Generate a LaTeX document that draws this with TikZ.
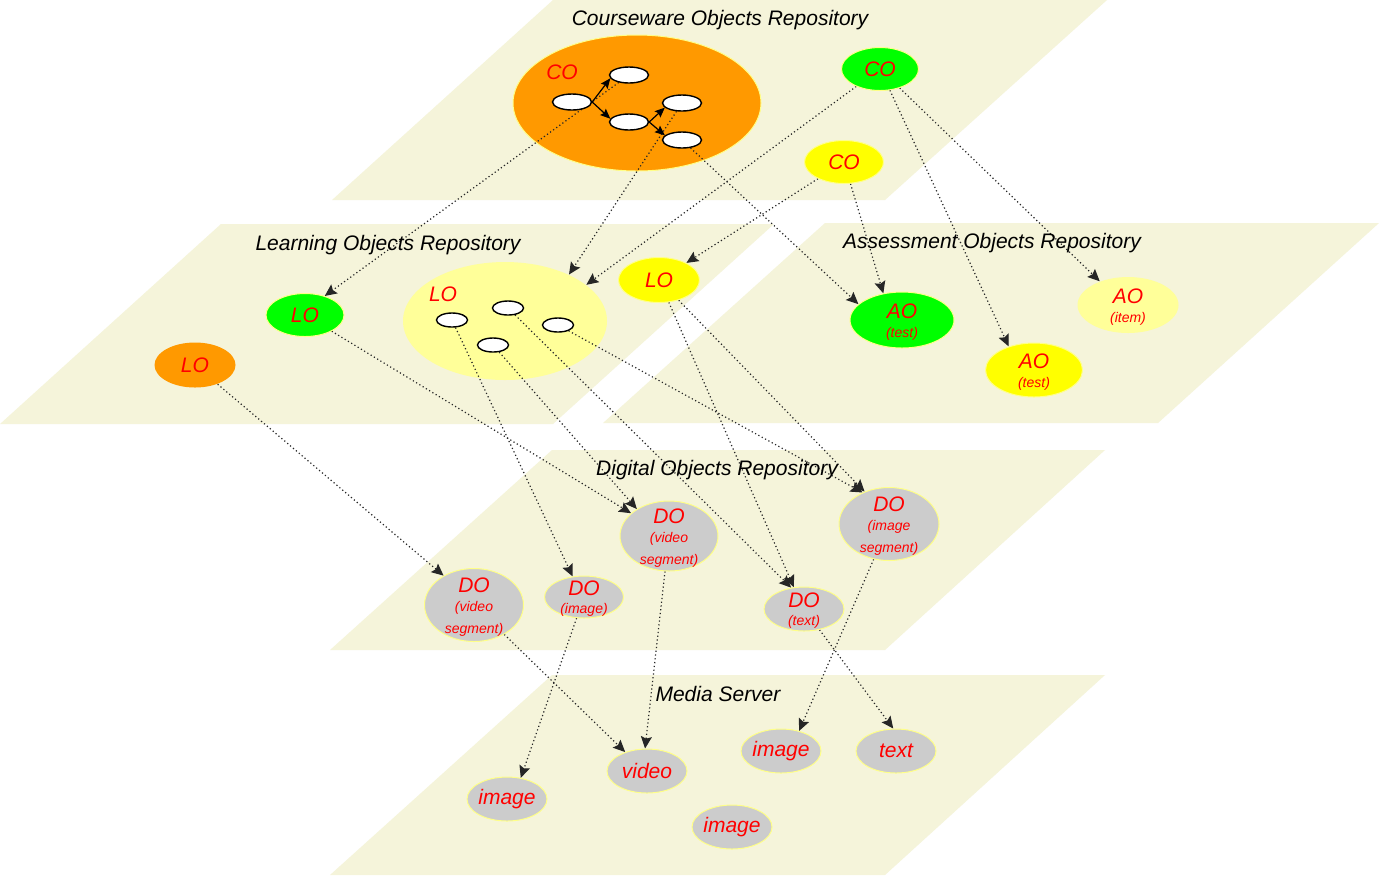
\documentclass[tikz,border=0pt]{standalone}
\usepackage{fontspec}
\setmainfont{Liberation Sans}
\usetikzlibrary{arrows.meta,shapes.geometric}
\definecolor{planeC}{HTML}{F5F4DA}
\definecolor{orangeC}{HTML}{FF9900}
\definecolor{greenC}{HTML}{00FF00}
\definecolor{yellowC}{HTML}{FFFF00}
\definecolor{lightY}{HTML}{FFFF99}
\definecolor{grayC}{HTML}{CCCCCC}
\definecolor{redT}{HTML}{FF0000}
\definecolor{rimY}{HTML}{FFFF88}
\newcommand\bigtxt{\fontsize{10.5}{11}\selectfont\itshape}
\newcommand\smalltxt{\fontsize{7}{8.2}\selectfont\itshape}
\pgfdeclarelayer{bg}
\pgfdeclarelayer{lines}
\pgfsetlayers{bg,lines,main}
\begin{document}
\begin{tikzpicture}[x=0.5pt,y=-0.5pt,
  plane/.style={fill=planeC},
  obj/.style={ellipse, inner sep=0pt, draw=rimY, line width=0.5pt},
  lbl/.style={text=redT, align=center, inner sep=0pt, font=\bigtxt},
  wobj/.style={ellipse, draw=black, fill=white, line width=0.7pt, inner sep=0pt},
  wco/.style={wobj, minimum width=19.5pt, minimum height=8pt},
  wlo/.style={wobj, minimum width=15.5pt, minimum height=7pt},
  conn/.style={draw=black!85, line width=0.6pt, dash pattern=on 0.6pt off 1.3pt,
    -{Stealth[length=6pt,width=5.5pt,inset=1pt]}},
  flow/.style={draw=black, line width=0.6pt, -{Stealth[length=5pt,width=4.2pt,inset=0.8pt]}},
  title/.style={font=\fontsize{10.5}{12}\selectfont\itshape, text=black, inner sep=0pt},
  small/.style={minimum width=40pt, minimum height=22pt}
]
\useasboundingbox (0,0) rectangle (1379,875);
\begin{pgfonlayer}{bg}
\fill[white] (0,0) rectangle (1379,875);
% planes
\fill[plane] (332,200) -- (885,200) -- (1107,0) -- (553,0) -- cycle;
\fill[plane] (0,424) -- (553,424) -- (774,224) -- (221,224) -- cycle;
\fill[plane] (603,423) -- (1158,423) -- (1379,223) -- (825,223) -- cycle;
\fill[plane] (330,650) -- (885,650) -- (1105,450) -- (552,450) -- cycle;
\fill[plane] (330,875) -- (885,875) -- (1105,675) -- (552,675) -- cycle;
% big ellipses
\node[obj, fill=orangeC, minimum width=124pt, minimum height=68pt] (bigCO) at (637,103) {};
\node[obj, draw=none, fill=lightY, minimum width=102pt, minimum height=59pt] (bigLO) at (505,321) {};
\end{pgfonlayer}

% titles
\node[title] (tCW) at (720,20) {Courseware Objects Repository};
\node[title] (tLO) at (388,245) {Learning Objects Repository};
\node[title] (tAO) at (992,243) {Assessment Objects Repository};
\node[title] (tDO) at (717,470) {Digital Objects Repository};
\node[title] (tMS) at (718,694) {Media Server};

% courseware
\node[lbl] (bigCOlbl) at (562,72) {CO};
\node[wco] (w1) at (572,102) {};
\node[wco] (w2) at (629,75) {};
\node[wco] (w3) at (629,122) {};
\node[wco] (w4) at (682,103) {};
\node[wco] (w5) at (682,140) {};
\node[obj, fill=greenC, minimum width=38.5pt, minimum height=21.5pt,
  label={[lbl]center:CO}] (gCO) at (880,69) {};
\node[obj, fill=yellowC, minimum width=39.5pt, minimum height=21.5pt,
  label={[lbl]center:CO}] (yCO) at (844,162) {};

% learning
\node[lbl] (bigLOlbl) at (443,294) {LO};
\node[wlo] (la) at (452,320) {};
\node[wlo] (lb) at (508,308) {};
\node[wlo] (lc) at (558,325) {};
\node[wlo] (ld) at (493,345) {};
\node[obj, fill=yellowC, minimum width=40.5pt, minimum height=22.5pt,
  label={[lbl]center:LO}] (yLO) at (659,280) {};
\node[obj, fill=greenC, minimum width=39pt, minimum height=21.5pt,
  label={[lbl]center:LO}] (gLO) at (305,315) {};
\node[obj, draw=none, fill=orangeC, minimum width=40.5pt, minimum height=22.5pt,
  label={[lbl]center:LO}] (oLO) at (195,365) {};

% assessment
\node[obj, fill=greenC, minimum width=52pt, minimum height=28pt,
  label={[lbl, yshift=-1pt]center:{AO\\[-1.5pt]\smalltxt (test)}}] (AOg) at (902,320) {};
\node[obj, fill=yellowC, minimum width=48.5pt, minimum height=27pt,
  label={[lbl, yshift=-1pt]center:{AO\\[-1.5pt]\smalltxt (test)}}] (AOy) at (1034,370) {};
\node[obj, draw=none, fill=lightY, minimum width=50.5pt, minimum height=28pt,
  label={[lbl, yshift=-1pt]center:{AO\\[-1.5pt]\smalltxt (item)}}] (AOi) at (1128,305) {};

% digital
\node[obj, fill=grayC, minimum width=49.5pt, minimum height=36.5pt,
  label={[lbl, yshift=-1pt]center:{DO\\[-1.5pt]\smalltxt (video\\\smalltxt segment)}}] (DOl) at (474,605) {};
\node[obj, fill=grayC, minimum width=39.5pt, minimum height=21pt,
  label={[lbl, yshift=-1pt]center:{DO\\[-2pt]\smalltxt (image)}}] (DOi) at (584,597) {};
\node[obj, fill=grayC, minimum width=49pt, minimum height=35pt,
  label={[lbl, yshift=-1pt]center:{DO\\[-1.5pt]\smalltxt (video\\\smalltxt segment)}}] (DOm) at (669,536) {};
\node[obj, fill=grayC, minimum width=50pt, minimum height=36.5pt,
  label={[lbl, yshift=-1pt]center:{DO\\[-1.5pt]\smalltxt (image\\\smalltxt segment)}}] (DOs) at (889,524) {};
\node[obj, fill=grayC, minimum width=40pt, minimum height=22pt,
  label={[lbl, yshift=-1pt]center:{DO\\[-2pt]\smalltxt (text)}}] (DOt) at (804,609) {};

% media
\node[obj, fill=grayC, small, label={[lbl]center:image}] (Mimg1) at (507,799) {};
\node[obj, fill=grayC, small, label={[lbl]center:video}] (Mvid) at (647,771) {};
\node[obj, fill=grayC, small, label={[lbl]center:image}] (Mimg2) at (781,751) {};
\node[obj, fill=grayC, small, label={[lbl]center:text}] (Mtext) at (896,751) {};
\node[obj, fill=grayC, small, label={[lbl]center:image}] (Mimg3) at (732,827) {};

% inner flow of CO
\draw[flow] (w1.east) -- (w2.190);
\draw[flow] (w1.east) -- (w3.170);
\draw[flow] (w3.east) -- (w4.195);
\draw[flow] (w3.east) -- (w5.165);

% connectors
\begin{pgfonlayer}{lines}
\draw[conn] (w2) -- (gLO.44);
\draw[conn] (w4) -- (bigLO.36);
\draw[conn] (w5) -- (AOg.160);
\draw[conn] (gCO) -- (bigLO.24);
\draw[conn] (gCO) -- (AOy.137);
\draw[conn] (gCO) -- (AOi.140);
\draw[conn] (yCO) -- (yLO.32);
\draw[conn] (yCO) -- (AOg.125);
\draw[conn] (oLO) -- (DOl.136);
\draw[conn] (gLO) -- (DOm.149);
\draw[conn] (ld) -- (DOm.140);
\draw[conn] (la) -- (DOi.119);
\draw[conn] (lb) -- (DOt.121);
\draw[conn] (yLO) -- (DOt.115);
\draw[conn] (lc) -- (DOs.130);
\draw[conn] (yLO) -- (DOs.127);
\draw[conn] (DOl) -- (Mvid.139);
\draw[conn] (DOm) -- (Mvid.95);
\draw[conn] (DOi) -- (Mimg1.57);
\draw[conn] (DOs) -- (Mimg2.48);
\draw[conn] (DOt) -- (Mtext.97);
\end{pgfonlayer}
\end{tikzpicture}
\end{document}
